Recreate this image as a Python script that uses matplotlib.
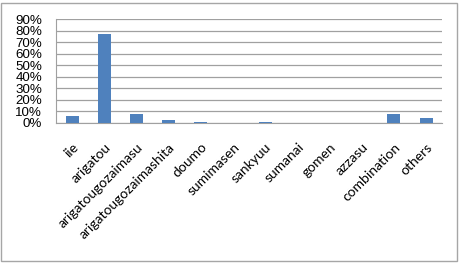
import matplotlib
matplotlib.use("Agg")
import matplotlib.pyplot as plt
from matplotlib.patches import Rectangle
from matplotlib.ticker import PercentFormatter

categories = ["iie", "arigatou", "arigatougozaimasu", "arigatougozaimashita",
              "doumo", "sumimasen", "sankyuu", "sumanai", "gomen", "azzasu",
              "combination", "others"]
values = [6.0, 77.0, 8.0, 2.5, 1.0, 0.3, 1.0, 0.2, 0.2, 0.3, 8.0, 4.0]
yticks = [0, 10, 20, 30, 40, 50, 60, 70, 80, 90]

plt.rcParams['font.family'] = ['Lato', 'DejaVu Sans']
fig = plt.figure(figsize=(4.63, 2.65), dpi=100)
fig.patches.append(Rectangle((0.003, 0.015), 0.985, 0.975, transform=fig.transFigure,
                             fill=False, edgecolor='#a6a6a6', linewidth=1.0))
ax = fig.add_axes([0.121, 0.536, 0.834, 0.392])
x = range(len(categories))
ax.bar(x, values, width=0.4, color='#4F81BD', zorder=3)
ax.set_xlim(-0.5, len(categories) - 0.5)
ax.set_ylim(0, 90)
ax.set_yticks(yticks)
ax.yaxis.set_major_formatter(PercentFormatter(decimals=0))
ax.grid(axis='y', color='#a0a0a0', linewidth=0.9, zorder=0)
ax.set_xticks(list(x))
ax.set_xticklabels(categories, rotation=45, ha='right', va='top',
                   rotation_mode='anchor', fontsize=10)
for lab in ax.get_yticklabels():
    lab.set_fontsize(9.6)
    lab.set_family(['Liberation Sans', 'DejaVu Sans'])
ax.tick_params(axis='y', length=0, pad=10)
ax.tick_params(axis='x', length=0, pad=13)
for s in ['top', 'right']:
    ax.spines[s].set_visible(False)
ax.spines['left'].set_color('#a0a0a0')
ax.spines['bottom'].set_color('#a0a0a0')
fig.savefig("out.png", dpi=100)
